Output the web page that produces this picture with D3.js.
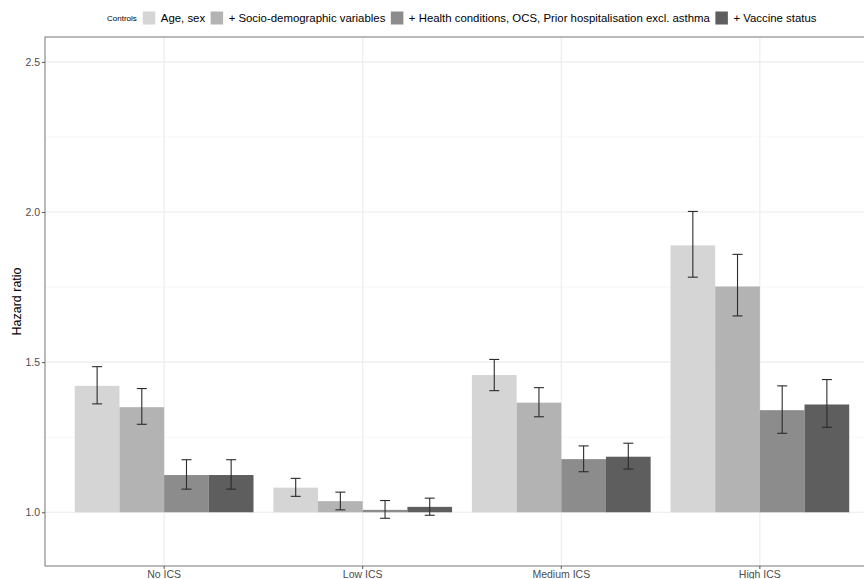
<!DOCTYPE html>
<html>
<head>
<meta charset="utf-8">
<script src="https://cdn.jsdelivr.net/npm/d3@7"></script>
<style>
  html, body { margin: 0; padding: 0; background: #fff; }
  svg { display: block; font-family: "Liberation Sans", Arial, Helvetica, sans-serif; }
</style>
</head>
<body>
<svg id="chart" width="864" height="579"></svg>
<script>
// ---- data ----
const categories = ["No ICS", "Low ICS", "Medium ICS", "High ICS"];
const seriesNames = ["Age, sex", "+ Socio-demographic variables", "+ Health conditions, OCS, Prior hospitalisation excl. asthma", "+ Vaccine status"];
const seriesColors = ["#d5d5d5", "#b3b3b3", "#8c8c8c", "#5e5e5e"];
// hazard ratios per series, in category order
const hrAgeSex   = [1.421, 1.082, 1.457, 1.889];
const hrSocio    = [1.350, 1.037, 1.365, 1.752];
const hrHealth   = [1.124, 1.008, 1.177, 1.340];
const hrVaccine  = [1.124, 1.018, 1.185, 1.359];
const loAgeSex   = [1.361, 1.053, 1.405, 1.783];
const hiAgeSex   = [1.485, 1.113, 1.509, 2.002];
const loSocio    = [1.293, 1.008, 1.318, 1.654];
const hiSocio    = [1.412, 1.067, 1.415, 1.859];
const loHealth   = [1.077, 0.980, 1.135, 1.263];
const hiHealth   = [1.175, 1.039, 1.221, 1.421];
const loVaccine  = [1.077, 0.990, 1.144, 1.283];
const hiVaccine  = [1.175, 1.047, 1.230, 1.442];
const yTicks = [1.0, 1.5, 2.0, 2.5];
const yMinorTicks = [1.25, 1.75, 2.25];
const yLimits = [0.821, 2.583];
const baseline = 1.0;

const hrs = [hrAgeSex, hrSocio, hrHealth, hrVaccine];
const los = [loAgeSex, loSocio, loHealth, loVaccine];
const his = [hiAgeSex, hiSocio, hiHealth, hiVaccine];
const rows = [];
categories.forEach((c, i) => {
  seriesNames.forEach((s, j) => {
    rows.push({cat: c, series: s, hr: hrs[j][i], lo: los[j][i], hi: his[j][i]});
  });
});

// ---- layout ----
const svg = d3.select("#chart");
const panel = {left: 45, right: 879, top: 37, bottom: 566};

const x = d3.scaleBand().domain(categories).range([panel.left, panel.right])
  .paddingInner(0.1).paddingOuter(0.15);
const xSub = d3.scaleBand().domain(seriesNames).range([0, x.bandwidth()]);
const y = d3.scaleLinear().domain(yLimits).range([panel.bottom, panel.top]);
const color = d3.scaleOrdinal().domain(seriesNames).range(seriesColors);

const g = svg.append("g");

// grid
g.selectAll("line.minor").data(yMinorTicks).join("line")
  .attr("x1", panel.left).attr("x2", panel.right)
  .attr("y1", d => y(d)).attr("y2", d => y(d))
  .attr("stroke", "#f2f2f2").attr("stroke-width", 0.6);
g.selectAll("line.major").data(yTicks).join("line")
  .attr("x1", panel.left).attr("x2", panel.right)
  .attr("y1", d => y(d)).attr("y2", d => y(d))
  .attr("stroke", "#ebebeb").attr("stroke-width", 1.1);
g.selectAll("line.vmajor").data(categories).join("line")
  .attr("x1", d => x(d) + x.bandwidth() / 2).attr("x2", d => x(d) + x.bandwidth() / 2)
  .attr("y1", panel.top).attr("y2", panel.bottom)
  .attr("stroke", "#ebebeb").attr("stroke-width", 1.1);

// bars
g.selectAll("rect.bar").data(rows).join("rect")
  .attr("x", d => x(d.cat) + xSub(d.series))
  .attr("width", xSub.bandwidth())
  .attr("y", d => y(Math.max(d.hr, baseline)))
  .attr("height", d => Math.abs(y(baseline) - y(d.hr)))
  .attr("fill", d => color(d.series));

// error bars
const capHalf = 5;
const eb = g.selectAll("g.eb").data(rows).join("g")
  .attr("stroke", "#2b2b2b").attr("stroke-width", 1.1);
eb.append("line")
  .attr("x1", d => x(d.cat) + xSub(d.series) + xSub.bandwidth() / 2)
  .attr("x2", d => x(d.cat) + xSub(d.series) + xSub.bandwidth() / 2)
  .attr("y1", d => y(d.lo)).attr("y2", d => y(d.hi));
eb.append("line")
  .attr("x1", d => x(d.cat) + xSub(d.series) + xSub.bandwidth() / 2 - capHalf)
  .attr("x2", d => x(d.cat) + xSub(d.series) + xSub.bandwidth() / 2 + capHalf)
  .attr("y1", d => y(d.hi)).attr("y2", d => y(d.hi));
eb.append("line")
  .attr("x1", d => x(d.cat) + xSub(d.series) + xSub.bandwidth() / 2 - capHalf)
  .attr("x2", d => x(d.cat) + xSub(d.series) + xSub.bandwidth() / 2 + capHalf)
  .attr("y1", d => y(d.lo)).attr("y2", d => y(d.lo));

// panel border
g.append("rect")
  .attr("x", panel.left).attr("y", panel.top)
  .attr("width", panel.right - panel.left).attr("height", panel.bottom - panel.top)
  .attr("fill", "none").attr("stroke", "#777").attr("stroke-width", 1);

// axes
const yAxis = g.append("g").attr("transform", `translate(${panel.left},0)`)
  .call(d3.axisLeft(y).tickValues(yTicks).tickFormat(d3.format(".1f")).tickSize(3).tickPadding(2));
yAxis.select(".domain").remove();
yAxis.selectAll(".tick line").attr("stroke", "#555");
yAxis.selectAll(".tick text").attr("fill", "#4d4d4d").style("font-size", "10.5px");

const xAxis = g.append("g").attr("transform", `translate(0,${panel.bottom})`)
  .call(d3.axisBottom(x).tickSize(3).tickPadding(2));
xAxis.select(".domain").remove();
xAxis.selectAll(".tick line").attr("stroke", "#555");
xAxis.selectAll(".tick text").attr("fill", "#4d4d4d").style("font-size", "10.5px");

// y title
svg.append("text")
  .attr("transform", `translate(21,${(panel.top + panel.bottom) / 2}) rotate(-90)`)
  .attr("text-anchor", "middle")
  .style("font-size", "12.5px").attr("fill", "#000")
  .text("Hazard ratio");

// legend
const legY = 18;
const leg = svg.append("g");
let cx = 107;
const lt = leg.append("text").attr("x", cx).attr("y", legY).attr("dy", "0.35em")
  .style("font-size", "8px").text("Controls");
cx += lt.node().getComputedTextLength() + 6;
seriesNames.forEach(s => {
  leg.append("rect").attr("x", cx).attr("y", legY - 6.5).attr("width", 12.5).attr("height", 13)
    .attr("fill", color(s));
  cx += 12.5 + 5.5;
  const t = leg.append("text").attr("x", cx).attr("y", legY).attr("dy", "0.35em")
    .style("font-size", "11.4px").attr("fill", "#000").text(s);
  cx += t.node().getComputedTextLength() + 5.5;
});
</script>
</body>
</html>
